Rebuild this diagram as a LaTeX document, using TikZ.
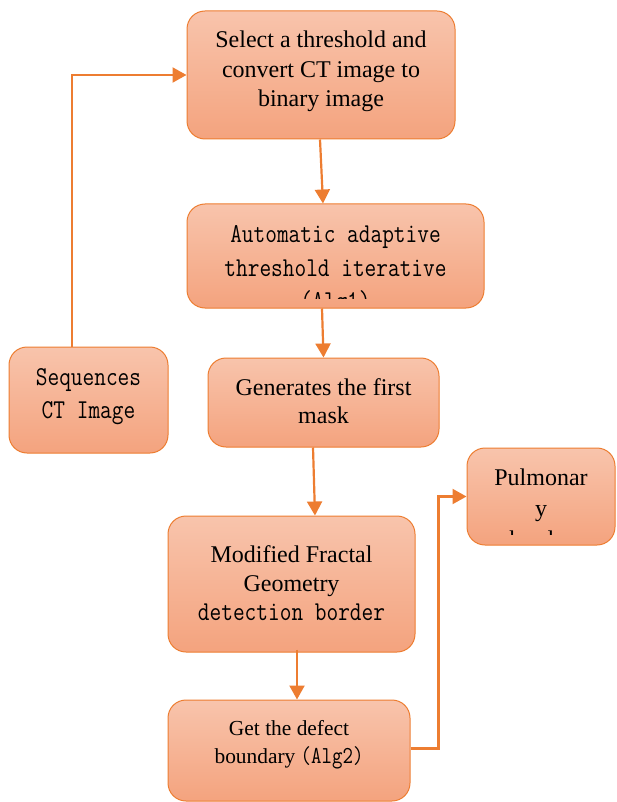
\documentclass[tikz,border=0pt]{standalone}
\usepackage{fontspec}
\setmainfont{Liberation Serif}
\usetikzlibrary{arrows.meta,calc}
\definecolor{boxline}{RGB}{237,125,49}
\definecolor{boxtop}{RGB}{248,196,172}
\definecolor{boxbot}{RGB}{244,163,126}
\newcommand{\vmono}[1]{\scalebox{1}[1.2]{#1}}
\tikzset{
  flowbox/.style={draw=boxline,line width=1pt,rounded corners=18pt,top color=boxtop,bottom color=boxbot,inner sep=0pt},
  txt/.style={anchor=base,align=center,inner sep=0pt,text=black},
  big/.style={font=\fontsize{24}{29.5}\selectfont},
  mono/.style={font=\fontsize{22.7}{33}\selectfont\ttfamily},
  arr/.style={draw=boxline,line width=2.2pt,-{Triangle[length=14pt,width=15pt]}}
}
\begin{document}
\begin{tikzpicture}[x=1pt,y=-1pt]
\useasboundingbox (0,0) rectangle (616,802);
% boxes
\node[flowbox,minimum width=268pt,minimum height=128pt] (b1) at (321,75) {};
\node[flowbox,minimum width=297pt,minimum height=104pt] (b2) at (335.5,256) {};
\node[flowbox,minimum width=159pt,minimum height=106pt] (b3) at (88.5,400) {};
\node[flowbox,minimum width=231pt,minimum height=89pt] (b4) at (323.5,402.5) {};
\node[flowbox,minimum width=148pt,minimum height=97pt] (b5) at (541,496.5) {};
\node[flowbox,minimum width=247pt,minimum height=136pt] (b6) at (291.5,584) {};
\node[flowbox,minimum width=242pt,minimum height=101pt] (b7) at (289,750.5) {};
% texts
\node[txt,big] (t1a) at (321,48) {Select a threshold and};
\node[txt,big] (t1b) at (321,77.5) {convert CT image to};
\node[txt,big] (t1c) at (321,107) {binary image};
\begin{scope}
\clip (187,204) rectangle (484,298);
\node[txt,mono] (t2a) at (335.5,243) {\vmono{Automatic adaptive}};
\node[txt,mono] (t2b) at (335.5,276) {\vmono{threshold iterative}};
\node[txt,mono] (t2c) at (335.5,309) {\vmono{(Alg1)}};
\end{scope}
\node[txt,mono] (t3a) at (88.5,385.5) {\vmono{Sequences}};
\node[txt,mono] (t3b) at (88.5,418) {\vmono{CT Image}};
\node[txt,big] (t4a) at (323.5,395) {Generates the first};
\node[txt,big] (t4b) at (323.5,423) {mask};
\begin{scope}
\clip (467,448) rectangle (616,534);
\node[txt,big] (t5a) at (541,485) {Pulmonar};
\node[txt,big] (t5b) at (541,516) {y};
\node[txt,big] (t5c) at (541,547) {border};
\end{scope}
\node[txt,big] (t6a) at (291.5,562.5) {Modified Fractal};
\node[txt,big] (t6b) at (291.5,591) {Geometry};
\node[txt,mono] (t6c) at (291.5,620) {\vmono{detection border}};
\node[txt,font=\fontsize{21.4}{28}\selectfont] (t7a) at (289,735) {Get the defect};
\node[txt,font=\fontsize{21.4}{28}\selectfont] (t7b) at (289,763) {boundary {\fontsize{20.3}{28}\selectfont\ttfamily\vmono{(Alg2)}}};
% connectors
\draw[arr] ([xshift=-16.5pt]b3.north) |- (b1.west);
\draw[arr] ([xshift=-1pt]b1.south) -- ([xshift=-12.5pt]b2.north);
\draw[arr] ([xshift=-13.5pt]b2.south) -- (b4.north);
\draw[arr] ([xshift=-10.5pt]b4.south) -- ([xshift=23.5pt]b6.north);
\draw[arr] ([xshift=5.5pt,yshift=3pt]b6.south) -- ([xshift=8pt]b7.north);
\draw[arr] ([yshift=2pt]b7.east) -- ++(28,0) |- (b5.west);
\end{tikzpicture}
\end{document}
